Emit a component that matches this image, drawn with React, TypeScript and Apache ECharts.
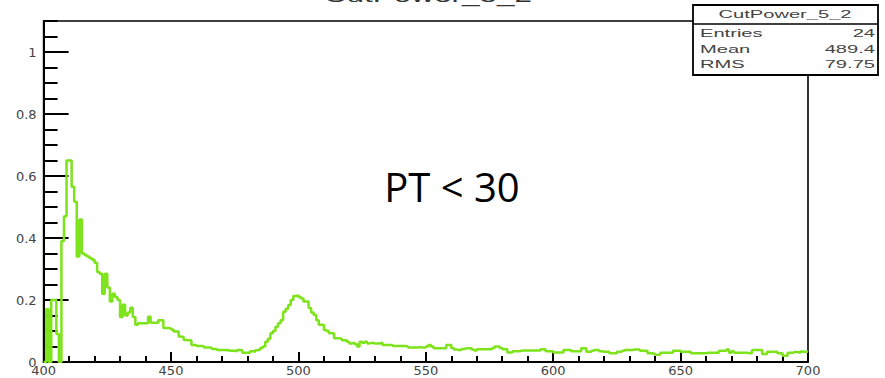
import React, { useEffect, useRef } from "react";
import * as echarts from "echarts";

// Histogram "CutPower_5_2": 300 bins of width 1 from 400 to 700
const X_MIN = 400;
const X_MAX = 700;
const BIN_WIDTH = 1;
const Y_MAX = 1.1;

const counts400: number[] = [
  0, 0.17, 0, 0.2, 0.2, 0.09, 0, 0.39, 0.47, 0.65,
  0.65, 0.565, 0.517, 0.34, 0.46, 0.35, 0.345, 0.34, 0.335, 0.33,
  0.32, 0.29, 0.285, 0.22, 0.285, 0.24, 0.195, 0.22, 0.21, 0.2,
  0.145, 0.185, 0.15, 0.16, 0.175, 0.145, 0.12, 0.125, 0.125, 0.125,
  0.125, 0.146, 0.127, 0.127, 0.127, 0.135, 0.135, 0.11, 0.11, 0.108,
];
const counts450: number[] = [
  0.105, 0.098, 0.098, 0.082, 0.08, 0.071, 0.07, 0.07, 0.055, 0.055,
  0.052, 0.052, 0.05, 0.047, 0.047, 0.046, 0.042, 0.042, 0.039, 0.039,
  0.039, 0.038, 0.039, 0.036, 0.036, 0.035, 0.039, 0.038, 0.03, 0.03,
  0.03, 0.035, 0.033, 0.038, 0.04, 0.045, 0.05, 0.065, 0.075, 0.093,
  0.1, 0.114, 0.125, 0.135, 0.162, 0.172, 0.184, 0.2, 0.213, 0.215,
];
const counts500: number[] = [
  0.21, 0.205, 0.195, 0.195, 0.174, 0.16, 0.152, 0.135, 0.12, 0.12,
  0.103, 0.1, 0.093, 0.093, 0.077, 0.077, 0.075, 0.07, 0.07, 0.065,
  0.06, 0.062, 0.058, 0.05, 0.065, 0.062, 0.065, 0.06, 0.062, 0.06,
  0.06, 0.06, 0.062, 0.055, 0.055, 0.055, 0.055, 0.052, 0.052, 0.052,
  0.052, 0.052, 0.05, 0.047, 0.047, 0.047, 0.047, 0.048, 0.047, 0.047,
];
const counts550: number[] = [
  0.05, 0.055, 0.05, 0.044, 0.044, 0.044, 0.044, 0.044, 0.055, 0.055,
  0.045, 0.04, 0.039, 0.039, 0.042, 0.044, 0.044, 0.044, 0.04, 0.037,
  0.041, 0.041, 0.041, 0.041, 0.041, 0.041, 0.045, 0.05, 0.05, 0.045,
  0.041, 0.041, 0.031, 0.031, 0.035, 0.035, 0.035, 0.037, 0.037, 0.037,
  0.037, 0.037, 0.037, 0.037, 0.037, 0.041, 0.041, 0.035, 0.035, 0.035,
];
const counts600: number[] = [
  0.031, 0.031, 0.031, 0.031, 0.039, 0.039, 0.039, 0.035, 0.035, 0.035,
  0.035, 0.044, 0.044, 0.033, 0.033, 0.036, 0.039, 0.039, 0.035, 0.033,
  0.033, 0.033, 0.028, 0.028, 0.028, 0.033, 0.033, 0.036, 0.039, 0.039,
  0.039, 0.04, 0.04, 0.04, 0.036, 0.036, 0.036, 0.028, 0.028, 0.026,
  0.023, 0.023, 0.03, 0.03, 0.03, 0.03, 0.03, 0.036, 0.036, 0.036,
];
const counts650: number[] = [
  0.033, 0.033, 0.033, 0.033, 0.028, 0.028, 0.028, 0.028, 0.028, 0.028,
  0.03, 0.03, 0.03, 0.03, 0.03, 0.036, 0.036, 0.036, 0.04, 0.03,
  0.035, 0.03, 0.03, 0.03, 0.03, 0.03, 0.028, 0.028, 0.039, 0.039,
  0.039, 0.039, 0.026, 0.026, 0.033, 0.033, 0.033, 0.033, 0.028, 0.028,
  0.02, 0.02, 0.03, 0.03, 0.032, 0.032, 0.03, 0.034, 0.032, 0.034,
];

const HIST_NAME = "CutPower_5_2";
const STAT_LABELS = ["Entries", "Mean", "RMS"];
const STAT_VALUES = ["24", "489.4", "79.75"];
const ANNOTATION = "PT < 30";

const ALL_COUNTS = [
  ...counts400,
  ...counts450,
  ...counts500,
  ...counts550,
  ...counts600,
  ...counts650,
];

export default function App() {
  const ref = useRef<HTMLDivElement>(null);

  useEffect(() => {
    if (!ref.current) return;
    const chart = echarts.init(ref.current, undefined, { renderer: "svg" });

    // step data: each bin starts at its low edge; final point closes last bin
    const stepData: [number, number][] = ALL_COUNTS.map((v, i) => [
      X_MIN + i * BIN_WIDTH,
      v,
    ]);
    stepData.push([X_MAX, ALL_COUNTS[ALL_COUNTS.length - 1]]);

    const SX = 1.75; // horizontal stretch of the original picture's text
    const statFont = "Liberation Sans, Arial, sans-serif";

    const graphics: any[] = [
      // top (cut-off) title
      {
        type: "text",
        x: 428,
        y: -4,
        scaleX: SX,
        z: 10,
        style: {
          text: HIST_NAME,
          fontSize: 18,
          fontFamily: statFont,
          fill: "#333",
          textAlign: "center",
          textVerticalAlign: "middle",
        },
      },
      // stats box
      {
        type: "rect",
        z: 20,
        shape: { x: 693, y: 5, width: 185, height: 70 },
        style: { fill: "#fff", stroke: "#000", lineWidth: 1.8 },
      },
      {
        type: "line",
        z: 21,
        shape: { x1: 693, y1: 24, x2: 878, y2: 24 },
        style: { stroke: "#000", lineWidth: 1.5 },
      },
      {
        type: "text",
        z: 22,
        x: 785,
        y: 14,
        scaleX: SX,
        style: {
          text: HIST_NAME,
          fontSize: 11.5,
          fontFamily: statFont,
          fill: "#444",
          textAlign: "center",
          textVerticalAlign: "middle",
        },
      },
      ...STAT_LABELS.map((t, i) => ({
        type: "text",
        z: 22,
        x: 700,
        y: 32.5 + i * 15.8,
        scaleX: SX,
        style: {
          text: t,
          fontSize: 11.5,
          fontFamily: statFont,
          fill: "#444",
          textAlign: "left",
          textVerticalAlign: "middle",
        },
      })),
      ...STAT_VALUES.map((t, i) => ({
        type: "text",
        z: 22,
        x: 875,
        y: 32.5 + i * 15.8,
        scaleX: SX,
        style: {
          text: t,
          fontSize: 11.5,
          fontFamily: statFont,
          fill: "#444",
          textAlign: "right",
          textVerticalAlign: "middle",
        },
      })),
      // annotation
      {
        type: "text",
        z: 15,
        x: 452,
        y: 186,
        style: {
          text: ANNOTATION,
          fontSize: 40,
          fontFamily: "Open Sans, Noto Sans, sans-serif",
          fill: "#000",
          textAlign: "center",
          textVerticalAlign: "middle",
        },
      },
    ];

    chart.setOption({
      animation: false,
      backgroundColor: "#fff",
      grid: {
        left: 43.6,
        right: 77,
        top: 21,
        bottom: 16,
        show: true,
        borderColor: "#000",
        borderWidth: 1.6,
        backgroundColor: "transparent",
        containLabel: false,
      },
      xAxis: {
        type: "value",
        min: X_MIN,
        max: X_MAX,
        interval: 50,
        axisLine: { show: true, onZero: false, lineStyle: { color: "#000", width: 2 } },
        axisTick: { show: true, inside: true, length: 10, lineStyle: { color: "#000", width: 2 } },
        minorTick: { show: true, splitNumber: 5, length: 6, lineStyle: { color: "#000", width: 2 } },
        splitLine: { show: false },
        minorSplitLine: { show: false },
        axisLabel: {
          margin: 2,
          color: "#444",
          fontSize: 13,
          fontFamily: "DejaVu Sans, sans-serif",
          showMinLabel: true,
          showMaxLabel: true,
        },
      },
      yAxis: [
        {
          type: "value",
          min: 0,
          max: Y_MAX,
          interval: 0.2,
          axisLine: { show: true, onZero: false, lineStyle: { color: "#000", width: 2 } },
          axisTick: { show: true, inside: true, length: 25, lineStyle: { color: "#000", width: 2 } },
          splitLine: { show: false },
          axisLabel: {
            margin: 7,
            color: "#444",
            fontSize: 13,
            fontFamily: "DejaVu Sans, sans-serif",
            showMaxLabel: false,
            formatter: (v: number) =>
              v > 1.0001 ? "" : v === 0 ? "0" : String(Number(v.toFixed(1))),
          },
        },
        {
          type: "value",
          min: 0,
          max: Y_MAX,
          interval: 0.05,
          position: "left",
          axisLine: { show: false },
          axisTick: { show: true, inside: true, length: 14, lineStyle: { color: "#000", width: 2 } },
          splitLine: { show: false },
          axisLabel: { show: false },
        },
      ],
      series: [
        {
          type: "line",
          name: HIST_NAME,
          data: stepData,
          step: "end",
          showSymbol: false,
          symbol: "none",
          clip: true,
          xAxisIndex: 0,
          yAxisIndex: 0,
          lineStyle: { color: "#7de31a", width: 2.5 },
          z: 5,
        },
      ],
      graphic: graphics,
    });

    return () => chart.dispose();
  }, []);

  return (
    <div
      ref={ref}
      style={{ position: "fixed", left: 0, top: 0, width: 885, height: 378, background: "#fff" }}
    />
  );
}
